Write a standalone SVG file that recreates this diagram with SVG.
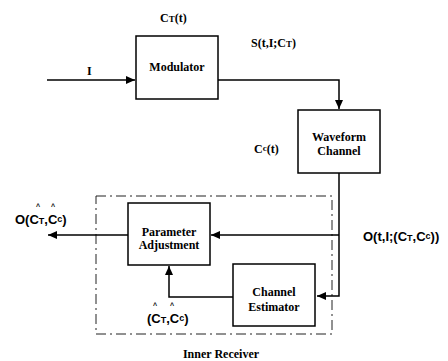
<svg xmlns="http://www.w3.org/2000/svg" width="448" height="361" viewBox="0 0 448 361">
<defs>
<marker id="ah" markerUnits="userSpaceOnUse" markerWidth="10" markerHeight="10" viewBox="0 0 10 10" refX="9" refY="5" orient="auto">
<path d="M0,1 L9,5 L0,9 Z" fill="#000"/>
</marker>
<style>
.box{fill:#fff;stroke:#000;stroke-width:1.5}
.line{fill:none;stroke:#000;stroke-width:1.5}
.t{font-family:"Liberation Serif","Times New Roman",serif;font-weight:bold;font-size:12px;fill:#000}
.s{font-family:"Liberation Sans",Arial,sans-serif;font-weight:bold;font-size:13px;fill:#000}
.sub{font-size:9px}
.hat{font-family:"Liberation Sans",Arial,sans-serif;font-weight:bold;font-size:7px;fill:#000}
.dash{fill:none;stroke:#222;stroke-width:1;stroke-dasharray:10 4 2 4}
</style>
</defs>
<rect width="448" height="361" fill="#fff"/>
<g id="inner-receiver">
<rect class="dash" x="96" y="196" width="236" height="138"/>
<text class="t" x="221" y="358" text-anchor="middle" font-family="Liberation Serif, serif">Inner Receiver</text>
</g>
<g id="connectors">
<path class="line" d="M47,80 H135" marker-end="url(#ah)"/>
<path class="line" d="M218,80 H339 V109" marker-end="url(#ah)"/>
<path class="line" d="M339,173 V296 H317" marker-end="url(#ah)"/>
<path class="line" d="M339,235 H211" marker-end="url(#ah)"/>
<path class="line" d="M128,235 H48" marker-end="url(#ah)"/>
<path class="line" d="M233,297 H169 V266" marker-end="url(#ah)"/>
</g>
<g id="modulator">
<rect class="box" x="136" y="36" width="82" height="63"/>
<text class="t" x="177" y="71" text-anchor="middle">Modulator</text>
</g>
<g id="waveform-channel">
<rect class="box" x="298" y="110" width="82" height="63"/>
<text class="t" x="339" y="141" text-anchor="middle">Waveform</text>
<text class="t" x="339" y="155" text-anchor="middle">Channel</text>
</g>
<g id="parameter-adjustment">
<rect class="box" x="128" y="203" width="82" height="62"/>
<text class="t" x="169" y="236" text-anchor="middle">Parameter</text>
<text class="t" x="169" y="249" text-anchor="middle">Adjustment</text>
</g>
<g id="channel-estimator">
<rect class="box" x="233" y="264" width="82" height="62"/>
<text class="t" x="274" y="296" text-anchor="middle">Channel</text>
<text class="t" x="274" y="311" text-anchor="middle">Estimator</text>
</g>
<g id="labels">
<text class="t" x="160" y="22">C<tspan class="sub">T</tspan>(t)</text>
<text class="t" x="87" y="75">I</text>
<text class="t" x="251" y="47">S(t,I;C<tspan class="sub">T</tspan>)</text>
<text class="t" x="254" y="153">C<tspan class="sub" dy="-2">c</tspan><tspan dy="2">(t)</tspan></text>
<text class="s" x="363" y="241">O(t,I;(C<tspan class="sub">T</tspan>,C<tspan class="sub" dy="-2">c</tspan><tspan dy="2">))</tspan></text>
<text class="s" x="15" y="224">O(C<tspan class="sub">T</tspan>,C<tspan class="sub" dy="-2">c</tspan><tspan dy="2">)</tspan></text>
<text class="hat" x="36" y="209">^</text>
<text class="hat" x="51" y="209">^</text>
<text class="s" x="147" y="323">(C<tspan class="sub">T</tspan>,C<tspan class="sub" dy="-2">c</tspan><tspan dy="2">)</tspan></text>
<text class="hat" x="153" y="308">^</text>
<text class="hat" x="170" y="308">^</text>
</g>
</svg>
